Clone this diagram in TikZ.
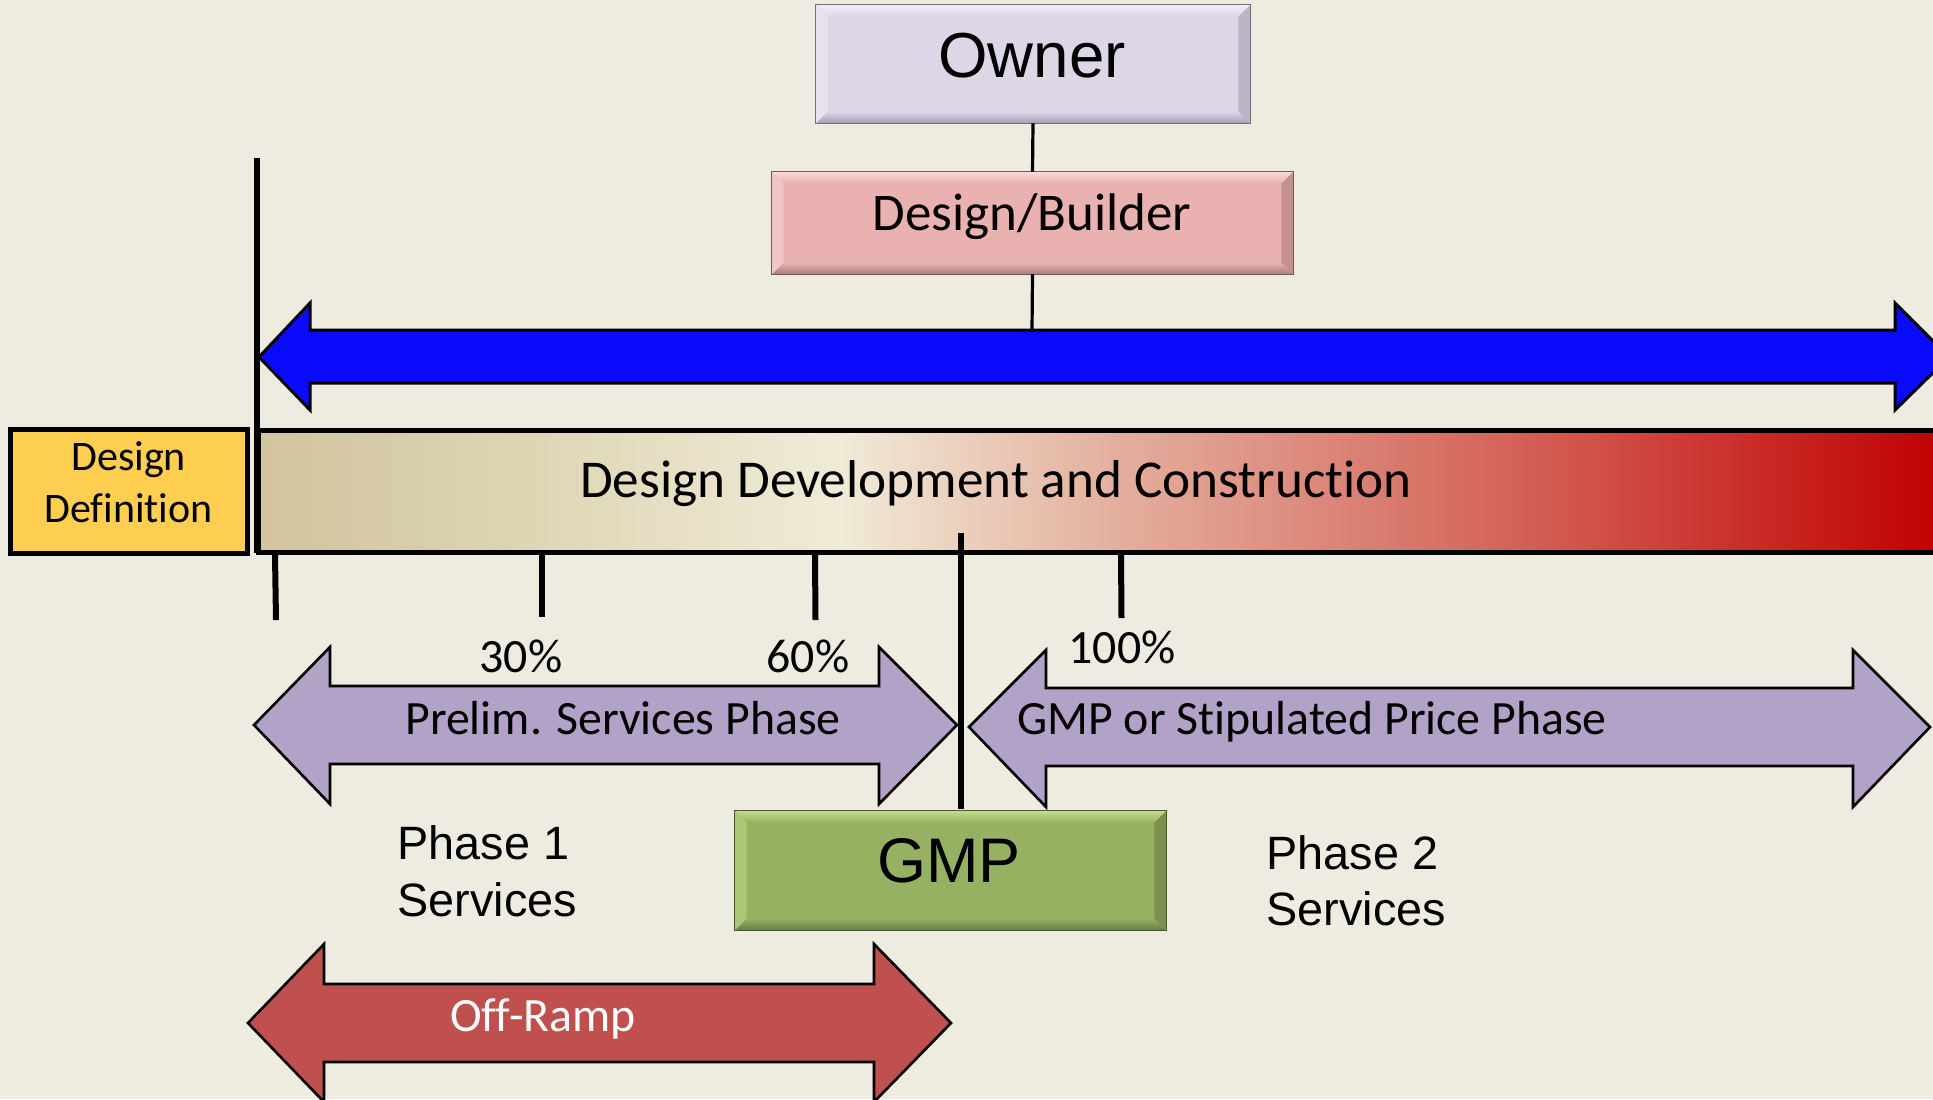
\documentclass[tikz,border=0pt]{standalone}
\usepackage{fontspec}
\setmainfont{Carlito}[Ligatures=CommonOff]
\newfontfamily\arialf{Liberation Sans}
\definecolor{bg}{RGB}{238,236,225}
\definecolor{ownerc}{RGB}{221,214,231}
\definecolor{ownerL}{RGB}{242,239,247}
\definecolor{ownerD}{RGB}{165,156,178}
\definecolor{dbc}{RGB}{233,177,175}
\definecolor{dbL}{RGB}{247,218,216}
\definecolor{dbD}{RGB}{170,125,123}
\definecolor{gmpc}{RGB}{151,177,98}
\definecolor{gmpL}{RGB}{196,222,145}
\definecolor{gmpD}{RGB}{105,125,65}
\definecolor{ddc}{RGB}{254,206,80}
\definecolor{bluec}{RGB}{10,10,255}
\definecolor{purplec}{RGB}{179,162,199}
\definecolor{offc}{RGB}{192,80,77}
\definecolor{tanL}{RGB}{209,196,158}
\definecolor{tanM}{RGB}{222,213,180}
\definecolor{creamC}{RGB}{240,235,215}
\definecolor{pinkA}{RGB}{228,178,160}
\definecolor{redM}{RGB}{212,100,90}
\definecolor{redR}{RGB}{192,0,0}
\pgfdeclarehorizontalshading{ddcshade}{100bp}{color(0bp)=(tanL); color(25bp)=(tanL); color(33bp)=(tanM); color(42.2bp)=(creamC); color(50bp)=(pinkA); color(62bp)=(redM); color(75bp)=(redR); color(100bp)=(redR)}
\newcommand{\mybox}[5]{% node, main, light, dark, width
  \shade[top color=#3, bottom color=#2] (#1.north west) -- (#1.north east) -- ([shift={(-#5,#5)}]#1.north east) -- ([shift={(#5,#5)}]#1.north west) -- cycle;
  \shade[top color=#2, bottom color=#4] (#1.south west) -- (#1.south east) -- ([shift={(-#5,-#5)}]#1.south east) -- ([shift={(#5,-#5)}]#1.south west) -- cycle;
  \fill[#3!50!#2] (#1.north west) -- ([shift={(#5,#5)}]#1.north west) -- ([shift={(#5,-#5)}]#1.south west) -- (#1.south west) -- cycle;
  \fill[#4!60!#2] (#1.north east) -- ([shift={(-#5,#5)}]#1.north east) -- ([shift={(-#5,-#5)}]#1.south east) -- (#1.south east) -- cycle;
  \draw[#4!70!black, line width=0.6pt] (#1.north west) rectangle (#1.south east);
}
\begin{document}
\begin{tikzpicture}[x=0.5pt,y=-0.5pt,
  bevelbox/.style={rectangle, inner sep=0pt, draw=none},
  conn/.style={line width=1.6pt, black},
  tick/.style={line width=3pt, black},
  arrowshape/.style={draw=black, line width=1.3pt, line join=miter},
  calb/.style={inner sep=0pt, anchor=base, font=\fontsize{23.9}{28}\selectfont},
  arl/.style={inner sep=0pt, anchor=base west, font=\arialf\fontsize{23.4}{28}\selectfont}
]
\fill[bg] (0,0) rectangle (1933,1099);
\useasboundingbox (0,0) rectangle (1933,1099);
\clip (0,0) rectangle (1933,1099);

% Owner and Design/Builder
\node[bevelbox, fill=ownerc, minimum width=217pt, minimum height=59pt] (owner) at (1033,64) {};
\mybox{owner}{ownerc}{ownerL}{ownerD}{12}
\node[inner sep=0pt, anchor=base, font=\arialf\fontsize{31.8}{38}\selectfont] (ownert) at (1032,77) {Owner};

\node[bevelbox, fill=dbc, minimum width=260.5pt, minimum height=51pt] (db) at (1032.5,223) {};
\mybox{db}{dbc}{dbL}{dbD}{12}
\node[inner sep=0pt, anchor=base, font=\fontsize{26.5}{32}\selectfont] (dbt) at (1032,230) {Design/Builder};

% blue double arrow
\draw[arrowshape, fill=bluec, line width=1.5pt] (259,357) -- (310,303) -- (310,330) -- (1895,330) -- (1895,303) -- (1949,357) -- (1895,410) -- (1895,383) -- (310,383) -- (310,410) -- cycle;
\coordinate (bluetop) at (1032,330);
\draw[conn] (owner.south) -- (db.north);
\draw[conn] (db.south) -- (bluetop);

% Design definition box and bar
\node[rectangle, draw=black, line width=2.5pt, fill=ddc, minimum width=118.25pt, minimum height=61.75pt, inner sep=0pt] (dd) at (128.75,491.25) {};
\node[calb, font=\fontsize{21}{26}\selectfont] (dd1) at (128.6,470) {Design};
\node[calb, font=\fontsize{21}{26}\selectfont] (dd2) at (128.6,522) {Definition};

\node[rectangle, draw=black, line width=2.5pt, shading=ddcshade, minimum width=843.5pt, minimum height=61pt, inner sep=0pt] (bar) at (1101.5,491) {};
\node[calb, font=\fontsize{26.6}{32}\selectfont] (bart) at (996,497) {Design Development and Construction};

\coordinate (vtop) at (256.5,158);
\coordinate (vbot) at (256.5,553);
\draw[tick] (vtop) -- (vbot);

% ticks
\coordinate (t1a) at (275,555); \coordinate (t1b) at (276,620);
\coordinate (t2a) at (541.5,555); \coordinate (t2b) at (541.5,617);
\coordinate (t3a) at (815,555); \coordinate (t3b) at (815.5,620);
\coordinate (t4a) at (1121,555); \coordinate (t4b) at (1121.5,618);
\draw[tick] (t1a) -- (t1b);
\draw[tick] (t2a) -- (t2b);
\draw[tick] (t3a) -- (t3b);
\draw[tick] (t4a) -- (t4b);

\node[calb] (p30) at (521,672) {30\%};
\node[calb] (p60) at (808,672) {60\%};
\node[calb] (p100) at (1122,663) {100\%};

% phase arrows
\draw[arrowshape, fill=purplec] (254,725) -- (330,647) -- (330,686) -- (879,686) -- (879,647) -- (957,725) -- (879,804) -- (879,764) -- (330,764) -- (330,804) -- cycle;
\draw[arrowshape, fill=purplec] (969,727) -- (1046,650) -- (1046,688) -- (1853,688) -- (1853,650) -- (1930,727) -- (1853,807) -- (1853,766) -- (1046,766) -- (1046,807) -- cycle;
\node[calb] (prelim) at (623,734) {Prelim. Services Phase};
\node[calb, anchor=base west] (gmpph) at (1017,734) {GMP or Stipulated Price Phase};

% GMP divider line
\coordinate (ga) at (960.5,533);
\coordinate (gb) at (960.5,809);
\draw[tick] (ga) -- (gb);

% GMP box
\node[bevelbox, fill=gmpc, minimum width=215.5pt, minimum height=59.5pt] (gmp) at (950.5,870.5) {};
\mybox{gmp}{gmpc}{gmpL}{gmpD}{12}
\node[inner sep=0pt, anchor=base, font=\arialf\fontsize{31.5}{38}\selectfont] (gmpt) at (949,882) {GMP};

% phase texts
\node[arl] (ph1a) at (397,859) {Phase 1};
\node[arl] (ph1b) at (397,916) {Services};
\node[arl] (ph2a) at (1266,869) {Phase 2};
\node[arl] (ph2b) at (1266,925) {Services};

% Off-ramp
\draw[arrowshape, fill=offc] (248,1023) -- (324,944) -- (324,984) -- (874,984) -- (874,944) -- (951,1023) -- (874,1102) -- (874,1062) -- (324,1062) -- (324,1102) -- cycle;
\node[calb, text=white] (offr) at (543,1031) {Off-Ramp};
\end{tikzpicture}
\end{document}
